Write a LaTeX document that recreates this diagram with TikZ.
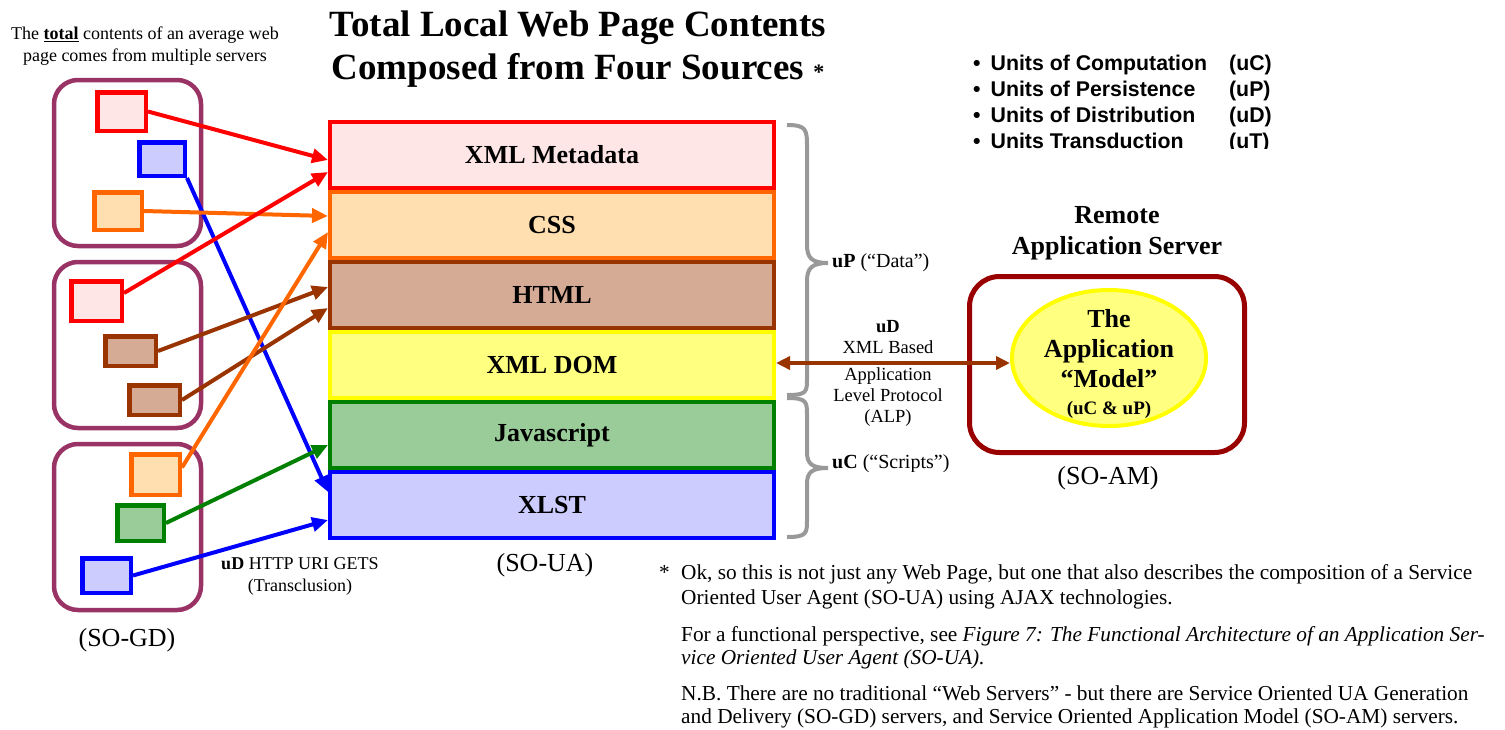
\documentclass[tikz,border=0pt]{standalone}
\usepackage{fontspec}
\setmainfont{Liberation Serif}
\newfontfamily\arialf{Liberation Sans}
\usetikzlibrary{arrows.meta,calc,shapes.geometric}
\newcommand\fsz[2]{\fontsize{#1}{#2}\selectfont}
\definecolor{cRed}{HTML}{FF0000}
\definecolor{fRed}{HTML}{FFE6E6}
\definecolor{cOra}{HTML}{FF6600}
\definecolor{fOra}{HTML}{FFDFB0}
\definecolor{cBro}{HTML}{993300}
\definecolor{fBro}{HTML}{D6AB96}
\definecolor{cYel}{HTML}{FFFF00}
\definecolor{fYel}{HTML}{FFFF80}
\definecolor{cGre}{HTML}{008000}
\definecolor{fGre}{HTML}{99CC99}
\definecolor{cBlu}{HTML}{0000FF}
\definecolor{fBlu}{HTML}{CCCCFF}
\definecolor{srv}{HTML}{993366}
\definecolor{remote}{HTML}{990000}
\definecolor{brace}{HTML}{999999}
\begin{document}
\begin{tikzpicture}[x=1pt,y=-1pt,
  layer/.style={draw, line width=4pt, minimum width=444pt, minimum height=66pt, inner sep=0pt, font=\fsz{26}{30}\bfseries},
  server/.style={draw=srv, line width=4.5pt, rounded corners=24pt, minimum width=147pt, minimum height=166pt, inner sep=0pt},
  sbox/.style={draw, line width=4.5pt, inner sep=0pt},
  feed/.style={line width=4pt, -{Triangle[length=16pt,width=14pt]}},
  bracestyle/.style={draw=brace, line width=4pt},
  plain/.style={inner sep=0pt, align=center}
]
\useasboundingbox (0,0) rectangle (1505,729);

% title and header texts
\node[plain, font=\fsz{37}{43}\bfseries] (title) at (578,49) {Total Local Web Page Contents\\Composed from Four Sources {\fsz{22}{22}*}};
\node[plain, font=\fsz{18}{22}] (intro) at (145,46) {The \underline{\textbf{total}} contents of an average web\\page comes from multiple servers};

% bullets
\begin{scope}
\clip (940,40) rectangle (1300,148);
\node[inner sep=0pt, anchor=north west, font=\arialf\bfseries\fsz{21.3}{26}] (units) at (973,52)
 {\begin{tabular}{@{}c@{\hspace{10pt}}l@{\hspace{22pt}}l@{}}
 \textbullet & Units of Computation & (uC)\\
 \textbullet & Units of Persistence & (uP)\\
 \textbullet & Units of Distribution & (uD)\\
 \textbullet & Units Transduction & (uT)
 \end{tabular}};
\end{scope}

% layers
\node[layer, draw=cRed, fill=fRed] (meta) at (552,155) {XML Metadata};
\node[layer, draw=cOra, fill=fOra] (css) at (552,225) {CSS};
\node[layer, draw=cBro, fill=fBro] (html) at (552,295) {HTML};
\node[layer, draw=cYel, fill=fYel] (dom) at (552,365) {XML DOM};
\node[layer, draw=cGre, fill=fGre] (js) at (552,435) {Javascript};
\node[layer, draw=cBlu, fill=fBlu] (xlst) at (552,505) {XLST};
\node[plain, font=\fsz{26}{30}] (soua) at (545,565) {(SO-UA)};

% servers
\node[server] (srv1) at (127.5,163) {};
\node[server] (srv2) at (127.5,345) {};
\node[server] (srv3) at (127.5,527) {};
\node[plain, font=\fsz{26}{30}] (sogd) at (127,640) {(SO-GD)};

\node[sbox, draw=cRed, fill=fRed, minimum width=48.5pt, minimum height=38.5pt] (rb1) at (121.5,111.5) {};
\node[sbox, draw=cBlu, fill=fBlu, minimum width=45.5pt, minimum height=33.5pt] (bb1) at (162,159) {};
\node[sbox, draw=cOra, fill=fOra, minimum width=47.5pt, minimum height=37.5pt] (ob1) at (118,211) {};
\node[sbox, draw=cRed, fill=fRed, minimum width=50.5pt, minimum height=39.5pt] (rb2) at (96.5,301) {};
\node[sbox, draw=cBro, fill=fBro, minimum width=50.5pt, minimum height=29.5pt] (nb1) at (130.5,351) {};
\node[sbox, draw=cBro, fill=fBro, minimum width=50.5pt, minimum height=29.5pt] (nb2) at (154.5,400) {};
\node[sbox, draw=cOra, fill=fOra, minimum width=48.5pt, minimum height=40.5pt] (ob3) at (155.5,474.5) {};
\node[sbox, draw=cGre, fill=fGre, minimum width=46.5pt, minimum height=35.5pt] (gb) at (140.5,523) {};
\node[sbox, draw=cBlu, fill=fBlu, minimum width=48.5pt, minimum height=34.5pt] (bb3) at (106.5,575.5) {};

% feed arrows
\draw[feed, cRed] (rb1.east) -- ($(meta.west)+(0,5)$);
\draw[feed, cBlu] (bb1.south east) -- ($(xlst.west)+(0,-13)$);
\draw[feed, cOra] (ob1.east) -- ($(css.west)+(0,-9)$);
\draw[feed, cRed] ($(rb2.east)+(0,-8)$) -- ($(meta.west)+(0,17)$);
\draw[feed, cBro] (nb1.east) -- ($(html.west)+(0,-8)$);
\draw[feed, cBro] (nb2.east) -- ($(html.west)+(0,13)$);
\draw[feed, cOra] ($(ob3.east)+(0,-7)$) -- ($(css.west)+(0,7)$);
\draw[feed, cGre] (gb.east) -- ($(js.west)+(0,10)$);
\draw[feed, cBlu] (bb3.east) -- ($(xlst.west)+(0,15)$);

\node[plain, font=\fsz{18}{22}] (http) at (300,576) {\textbf{uD} HTTP URI GETS\\(Transclusion)};

% braces
\draw[bracestyle] (787,125) .. controls (807,125) and (807,130) .. (807,148) -- (807,245)
  .. controls (807,258) and (812,263) .. (828,263)
  .. controls (812,263) and (807,268) .. (807,281) -- (807,378)
  .. controls (807,392) and (807,395) .. (787,395);
\draw[bracestyle] (787,398) .. controls (807,398) and (807,402) .. (807,415) -- (807,452)
  .. controls (807,464) and (812,468) .. (828,468)
  .. controls (812,468) and (807,472) .. (807,484) -- (807,520)
  .. controls (807,533) and (807,537) .. (787,537);
\node[inner sep=0pt, anchor=west, font=\fsz{20}{24}] (up) at (832,263) {\textbf{uP} (“Data”)};
\begin{scope}
\clip (828,440) rectangle (1000,471.5);
\node[inner sep=0pt, anchor=west, font=\fsz{20}{24}] (uc) at (832,464) {\textbf{uC} (“Scripts”)};
\end{scope}

% remote server
\node[plain, font=\fsz{26}{31}\bfseries] (remotetitle) at (1117,233) {Remote\\Application Server};
\node[draw=remote, line width=5pt, rounded corners=30pt, minimum width=275pt, minimum height=176pt, inner sep=0pt] (ras) at (1107,364.5) {};
\node[ellipse, draw=cYel, fill=fYel, line width=4pt, minimum width=194pt, minimum height=136pt, inner sep=0pt] (model) at (1109,358) {};
\node[plain, font=\fsz{26}{30}\bfseries] (modeltext) at (1109,364) {The\\Application\\“Model”\\[-3pt]{\fsz{19}{22}(uC \& uP)}};
\node[plain, font=\fsz{26}{30}] (soam) at (1108,478) {(SO-AM)};

% protocol arrow
\draw[line width=4pt, cBro, {Triangle[length=14pt,width=13pt]}-{Triangle[length=14pt,width=13pt]}] ($(dom.east)+(0,-2)$) -- ($(dom.east -| model.west)+(0,-2)$);
\node[plain, font=\fsz{18.5}{21}] (alp1) at (888,337) {\textbf{uD}\\XML Based};
\node[plain, font=\fsz{18.5}{21}] (alp2) at (888,397) {Application\\Level Protocol\\(ALP)};

% footnote
\begin{scope}[every node/.style={inner sep=0pt, anchor=base west, font=\fsz{21.3}{24}}]
\node (star) at (659,579) {*};
\node (f1) at (681,579) {Ok, so this is not just any Web Page, but one that also describes the composition of a Service};
\node (f2) at (681,604) {Oriented User Agent (SO-UA) using AJAX technologies.};
\node (f3) at (681,641) {For a functional perspective, see \textit{Figure 7: The Functional Architecture of an Application Ser-}};
\node (f4) at (681,664) {\textit{vice Oriented User Agent (SO-UA).}};
\node (f5) at (681,700) {N.B. There are no traditional “Web Servers” - but there are Service Oriented UA Generation};
\node (f6) at (681,723) {and Delivery (SO-GD) servers, and Service Oriented Application Model (SO-AM) servers.};
\end{scope}
\end{tikzpicture}
\end{document}
